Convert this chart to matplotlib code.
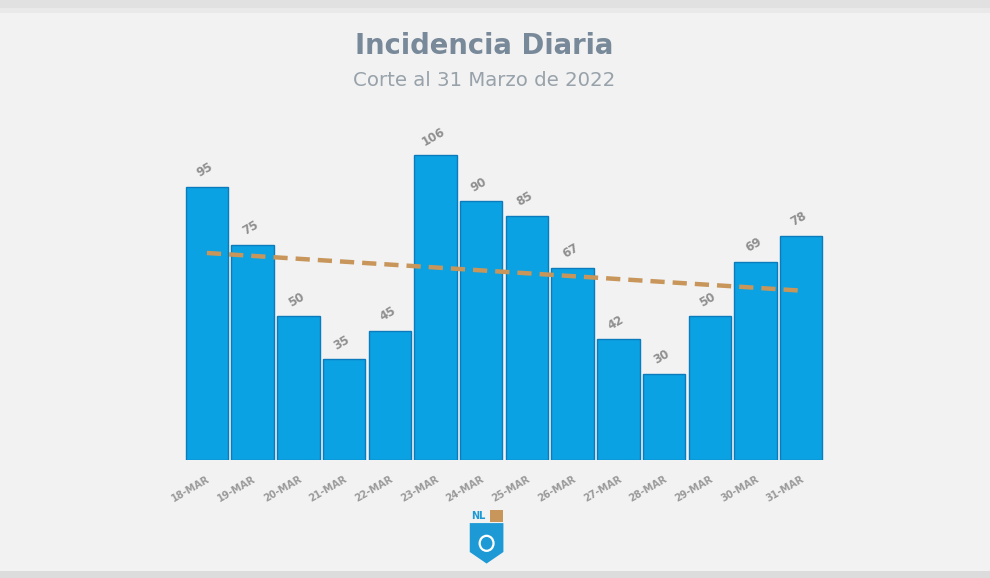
import matplotlib.pyplot as plt
import matplotlib.patches as mpatches
import numpy as np

dates = ['18-MAR', '19-MAR', '20-MAR', '21-MAR', '22-MAR', '23-MAR', '24-MAR',
         '25-MAR', '26-MAR', '27-MAR', '28-MAR', '29-MAR', '30-MAR', '31-MAR']
cases = [95, 75, 50, 35, 45, 106, 90, 85, 67, 42, 30, 50, 69, 78]

bg = '#f2f2f2'
fig = plt.figure(figsize=(9.9, 5.78), dpi=100, facecolor=bg)

# top / bottom frame strips
fig.add_artist(mpatches.Rectangle((0, 0.986), 1, 0.014, transform=fig.transFigure,
                                  color='#e1e1e1', lw=0))
fig.add_artist(mpatches.Rectangle((0, 0.978), 1, 0.008, transform=fig.transFigure,
                                  color='#e9e9e9', lw=0))
fig.add_artist(mpatches.Rectangle((0, 0), 1, 0.012, transform=fig.transFigure,
                                  color='#dcdcdc', lw=0))

ax = fig.add_axes([0.1859, 0.2042, 0.6465, 0.5467])
ax.set_facecolor(bg)
x = np.arange(len(cases))
ax.bar(x, cases, width=0.93, color='#0aa2e2', edgecolor='#0b7bbd', linewidth=1.0, zorder=2)

# linear trend
coeffs = np.polyfit(x, cases, 1)
ax.plot(x, np.polyval(coeffs, x), color='#c8965a', linewidth=3.2, linestyle=(0, (3.2, 1.8)),
        zorder=3)

for xi, v in zip(x, cases):
    ax.text(xi - 0.05, v + 2.5, str(v), rotation=30, ha='center', va='bottom',
            fontsize=8.5, fontweight='bold', color='#8f8f8f', family='DejaVu Sans')

ax.set_xlim(-0.5, len(cases) - 0.5)
ax.set_ylim(0, 110)
ax.set_xticks(x)
ax.set_xticklabels(dates, rotation=30, ha='right', rotation_mode='anchor',
                   fontsize=7, fontweight='bold', color='#9a9a9a', family='DejaVu Sans')
ax.tick_params(axis='x', length=0, pad=10)
ax.set_yticks([])
for s in ax.spines.values():
    s.set_visible(False)

fig.text(0.4889, 0.921, 'Incidencia Diaria', ha='center', va='center', fontsize=19.8,
         fontweight='bold', color='#78899a', family='DejaVu Sans')
fig.text(0.4889, 0.861, 'Corte al 31 Marzo de 2022', ha='center', va='center', fontsize=14.2,
         color='#98a2aa', family='DejaVu Sans')

# small shield logo
lx, ly = 0.4745, 0.025
shield = mpatches.Polygon([(lx, ly + 0.07), (lx + 0.034, ly + 0.07), (lx + 0.034, ly + 0.02),
                           (lx + 0.017, ly), (lx, ly + 0.02)], closed=True,
                          transform=fig.transFigure, color='#1d9ad6', lw=0)
fig.add_artist(shield)
fig.add_artist(mpatches.Rectangle((lx + 0.02, ly + 0.072), 0.014, 0.02, transform=fig.transFigure,
                                  color='#c8965a', lw=0))
fig.text(lx + 0.001, ly + 0.082, 'NL', fontsize=7, fontweight='bold', color='#1d9ad6',
         va='center', ha='left', family='DejaVu Sans')
fig.add_artist(mpatches.Ellipse((lx + 0.017, ly + 0.035), 0.014, 0.026, transform=fig.transFigure,
                                fill=False, edgecolor='white', lw=1.6))

fig.savefig('out.png', dpi=100, facecolor=bg)
